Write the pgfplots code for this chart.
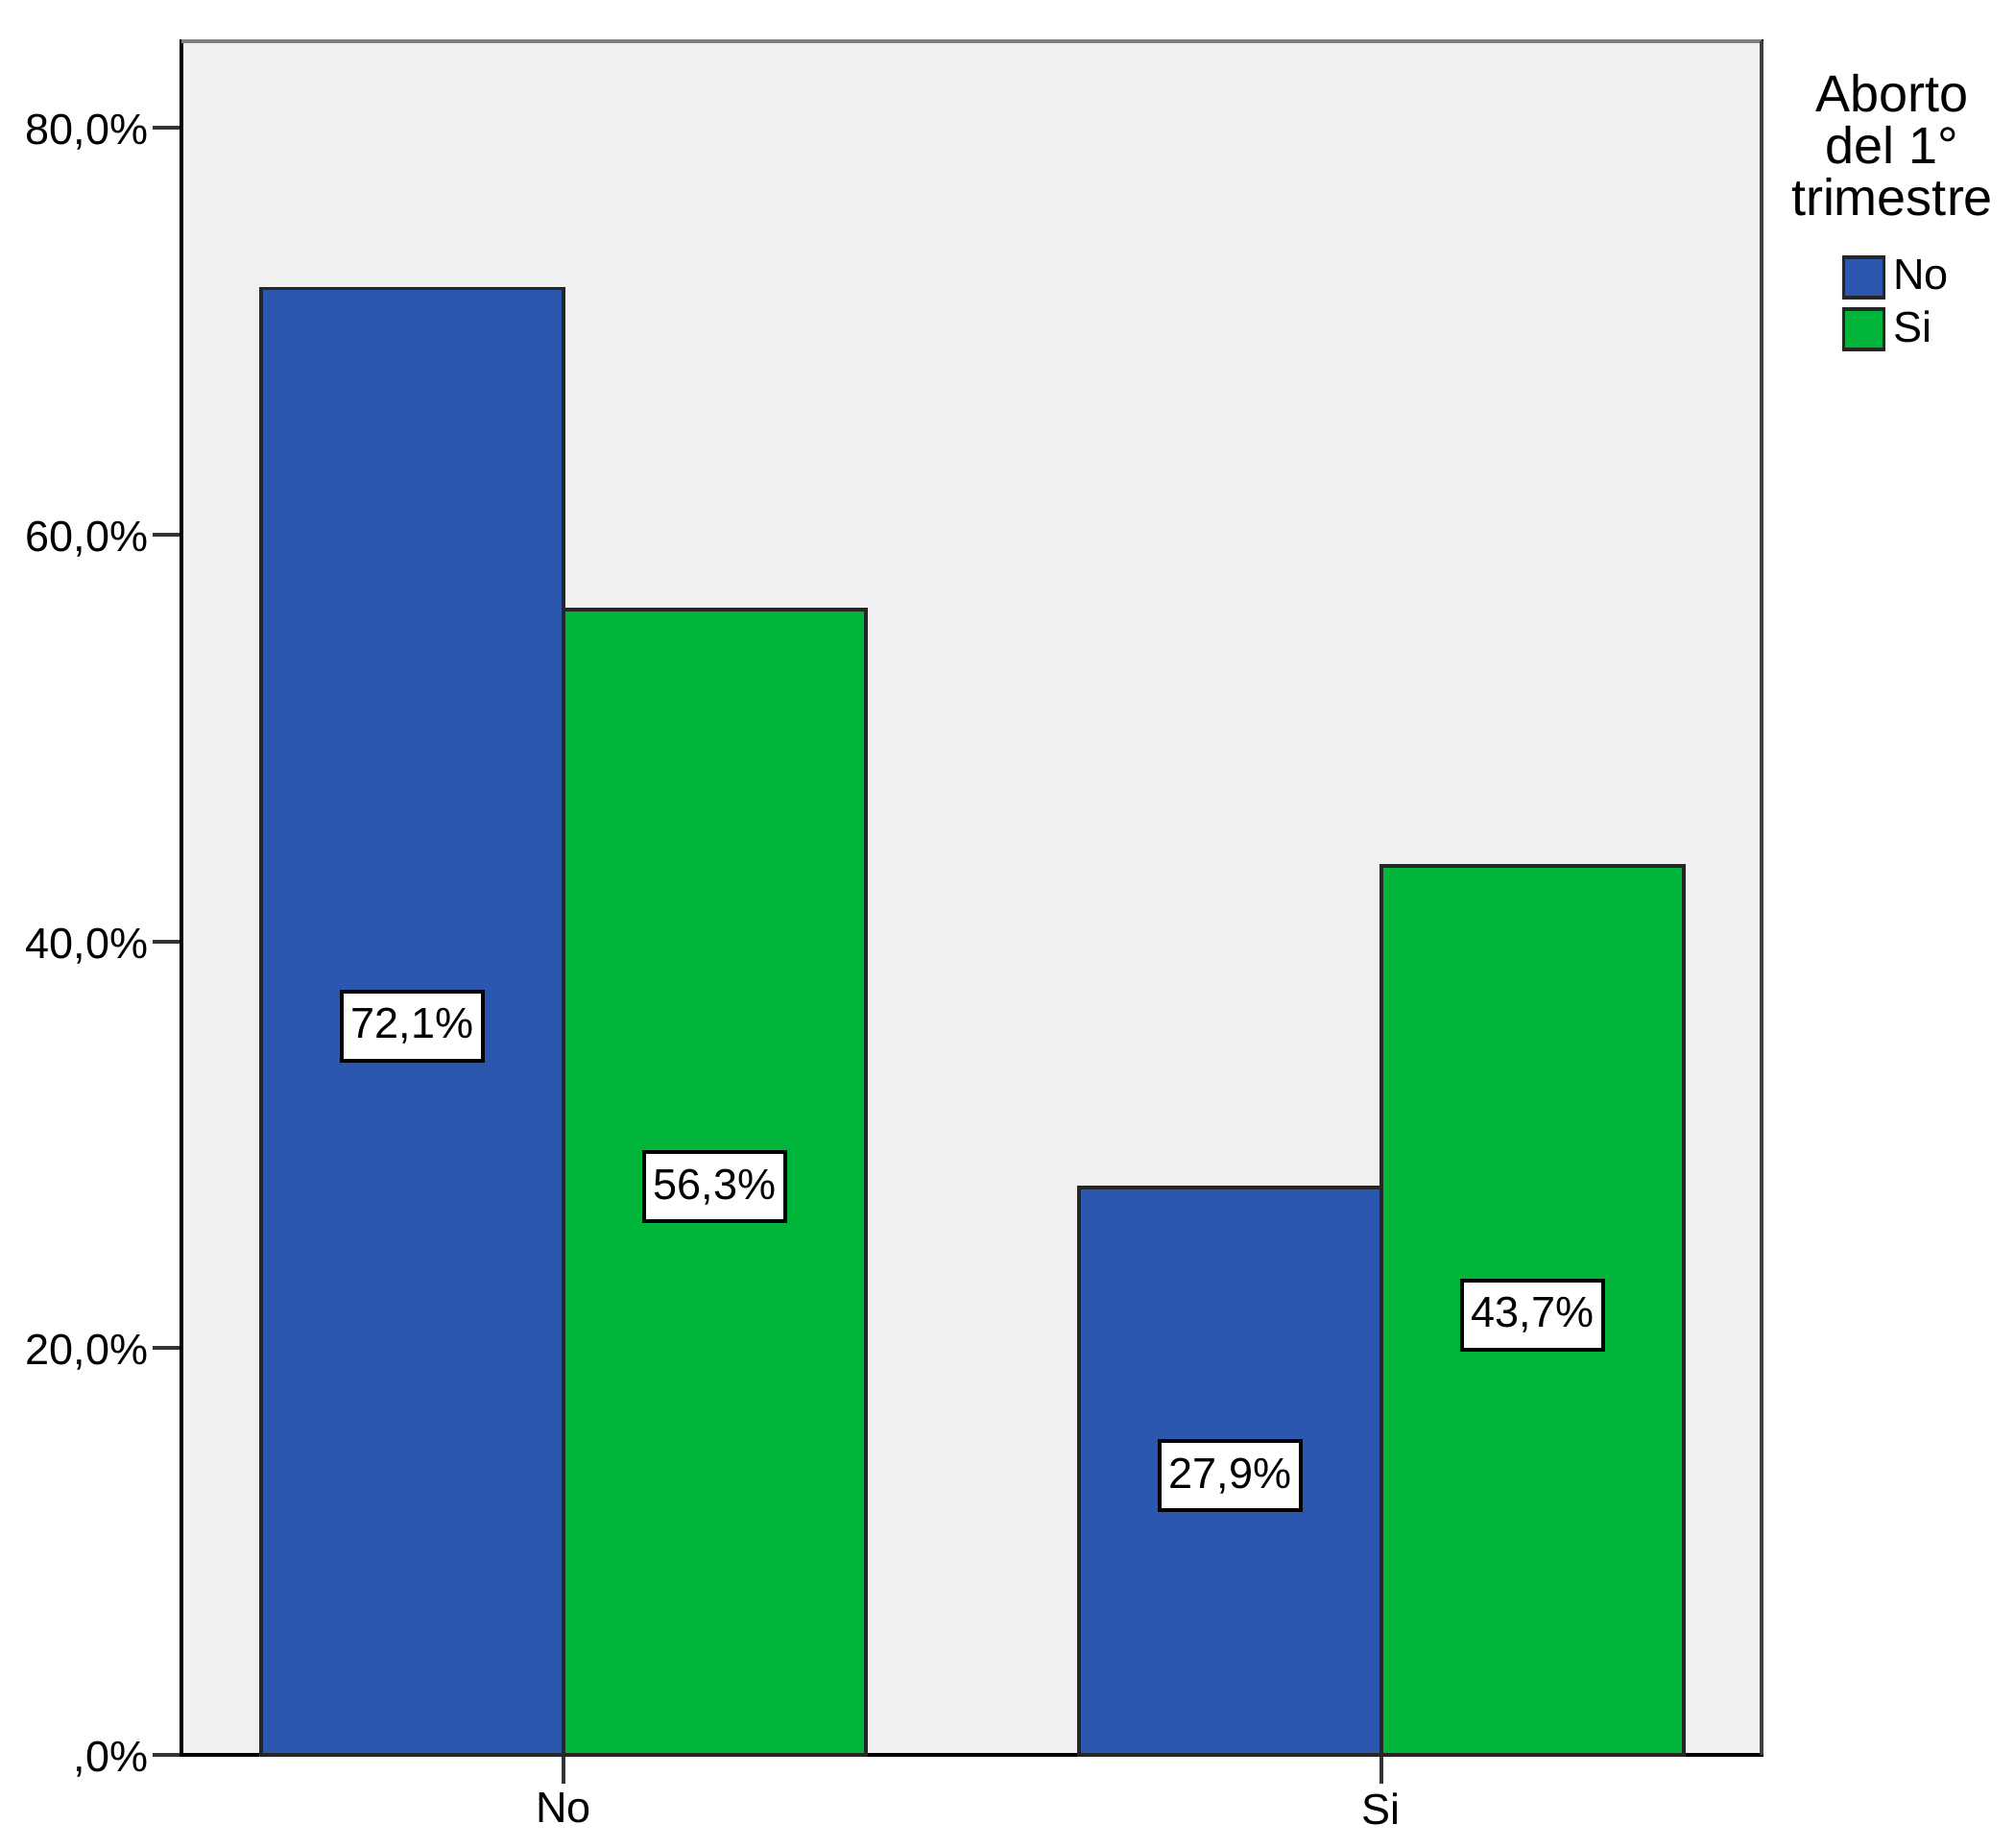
\documentclass[border=0pt]{standalone}
\usepackage{pgfplots}
\pgfplotsset{compat=1.18}
\usepackage{fontspec}
\setmainfont{Liberation Sans}
\definecolor{barblue}{HTML}{2B57AE}
\definecolor{bargreen}{HTML}{00B53A}
\definecolor{plotbg}{HTML}{F0F0F0}
\newcommand{\tickfont}{\fontsize{11.25bp}{13.5bp}\selectfont}

\pgfplotsset{
  boxleg/.style={legend image code/.code={%
    \draw[##1, line width=0.9bp] (0bp,-5.25bp) rectangle (10.5bp,5.25bp);}},
  pctlabel/.style={every node near coord/.append style={anchor=center,
    fill=white, draw=black, line width=1bp, inner xsep=2.4bp, inner ysep=0pt,
    minimum height=18bp, font=\tickfont, text=black,
    shift={(axis direction cs:0,-\rawy/2)}, yshift=-1.2bp}},
}

\begin{document}
\begin{tikzpicture}
\begin{axis}[
    scale only axis,
    width=411.5bp, height=446.25bp,
    xmin=-0.467, xmax=1.4648,
    ymin=0, ymax=84.25,
    clip=false,
    axis background/.style={fill=plotbg},
    axis line style={line width=1bp, black},
    ybar=0pt, bar width=0.3697,
    xtick={0,1}, xticklabels={No,Si},
    ytick={0,20,40,60,80},
    yticklabels={{,0\%},{20,0\%},{40,0\%},{60,0\%},{80,0\%}},
    tick align=outside, major tick length=7.5bp,
    tick style={line width=1bp, black!80},
    tick pos=left,
    tick label style={font=\tickfont, text=black},
    yticklabel style={anchor=east, inner sep=0pt, xshift=-1bp, yshift=-1.2bp},
    xticklabel style={anchor=north, inner sep=0pt, yshift=-2.25bp},
    legend style={at={(1,1)}, anchor=north west, xshift=20.75bp, yshift=-54.75bp,
      draw=none, fill=none, inner sep=0pt, row sep=0pt, font=\tickfont,
      legend cell align=left},
    nodes near coords={\pgfmathprintnumber[fixed,fixed zerofill,precision=1,
      use comma,assume math mode=true]{\pgfplotspointmeta}\%},
    visualization depends on={rawy \as \rawy},
  ]

% Aborto del 1er trimestre = No
\addplot[fill=barblue, draw=black!85, line width=0.9bp, boxleg, pctlabel]
  coordinates {(0,72.1) (1,27.9)};
\addlegendentry{No}

% Aborto del 1er trimestre = Si
\addplot[fill=bargreen, draw=black!85, line width=0.9bp, boxleg, pctlabel]
  coordinates {(0,56.3) (1,43.7)};
\addlegendentry{Si}

% marco: arriba gris, derecha gris oscuro
\draw[line width=1bp, black!50] (rel axis cs:0,1) -- (rel axis cs:1,1);
\draw[line width=1bp, black!75] (rel axis cs:1,0) -- (rel axis cs:1,1);

\node[align=center, anchor=north, inner sep=0pt,
  font=\fontsize{13.5bp}{13.4bp}\selectfont]
  at ([xshift=34bp, yshift=-8.5bp]rel axis cs:1,1) {Aborto\\del 1°\\trimestre};
\end{axis}
\pgfresetboundingbox
\path ([shift={(-47.25bp,-24.25bp)}]current axis.south west)
  rectangle ([shift={(66bp,10.75bp)}]current axis.north east);
\end{tikzpicture}
\end{document}
